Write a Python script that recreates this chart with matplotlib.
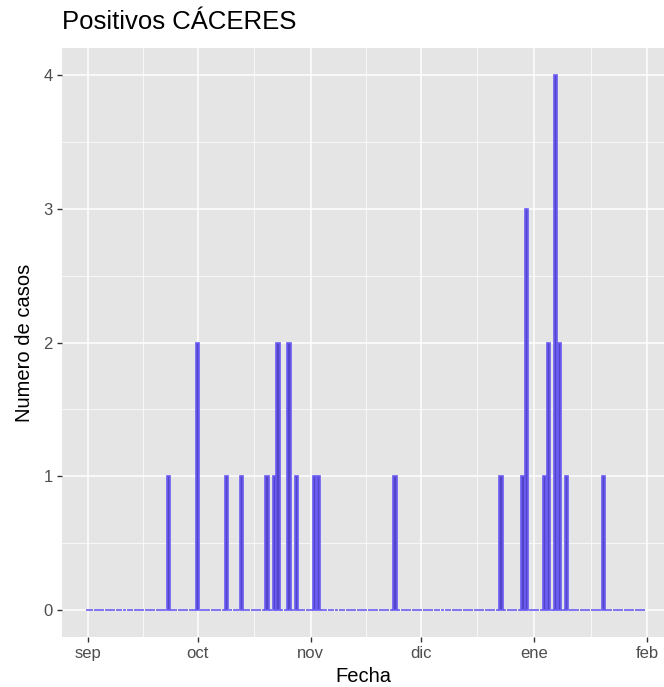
import numpy as np
import pandas as pd
import matplotlib
matplotlib.use("Agg")
import matplotlib.pyplot as plt
import matplotlib.dates as mdates

plt.rcParams['font.family'] = ['Liberation Sans', 'DejaVu Sans']

# casos positivos por dia (los dias que no aparecen son 0)
fechas_positivos = ["2020-09-23", "2020-10-01", "2020-10-09", "2020-10-13",
                    "2020-10-20", "2020-10-22", "2020-10-23", "2020-10-26",
                    "2020-10-28", "2020-11-02", "2020-11-03", "2020-11-24",
                    "2020-12-23", "2020-12-29", "2020-12-30", "2021-01-04",
                    "2021-01-05", "2021-01-07", "2021-01-08", "2021-01-10",
                    "2021-01-20"]
casos = [1, 2, 1, 1,
         1, 1, 2, 2,
         1, 1, 1, 1,
         1, 1, 3, 1,
         2, 4, 2, 1,
         1]

inicio = "2020-09-01"
fin = "2021-01-31"

meses = ["2020-09-01", "2020-10-01", "2020-11-01", "2020-12-01", "2021-01-01", "2021-02-01"]
etiquetas_meses = ["sep", "oct", "nov", "dic", "ene", "feb"]

serie = pd.Series(casos, index=pd.to_datetime(fechas_positivos))
dias = pd.date_range(inicio, fin, freq="D")
serie = serie.reindex(dias, fill_value=0)

fig = plt.figure(figsize=(6.64, 6.87), dpi=100)
ax = fig.add_axes([62 / 664, 50 / 687, 602 / 664, 589 / 687])
ax.set_facecolor("#E5E5E5")

ax.bar(serie.index, serie.values, width=0.9, color="#5345C6",
       edgecolor="#6B5CF4", linewidth=1.2, zorder=3)

x0 = mdates.date2num(pd.Timestamp(inicio))
ax.set_xlim(x0 - 7.1, x0 + 157.6)
ax.set_ylim(-0.2, 4.2)

ticks_x = mdates.date2num(pd.to_datetime(meses))
ax.set_xticks(ticks_x)
ax.set_xticklabels(etiquetas_meses)
ax.set_xticks((ticks_x[:-1] + ticks_x[1:]) / 2, minor=True)
ax.set_yticks([0, 1, 2, 3, 4])
ax.set_yticks([0.5, 1.5, 2.5, 3.5], minor=True)

ax.grid(which="major", color="white", linewidth=1.1, zorder=0)
ax.grid(which="minor", color="white", linewidth=0.5, zorder=0)
ax.set_axisbelow(True)

for s in ax.spines.values():
    s.set_visible(False)

ax.tick_params(which="major", length=3.5, width=1.0, color="#333333",
               labelsize=12, labelcolor="#4D4D4D", pad=3)
ax.tick_params(which="minor", length=0)

ax.set_xlabel("Fecha", fontsize=14.5, labelpad=4)
ax.set_ylabel("Numero de casos", fontsize=14.5, labelpad=7)
fig.text(62 / 664, 1 - 22 / 687, "Positivos CÁCERES", fontsize=18.5,
         ha="left", va="center")

fig.savefig("out.png", dpi=100)
